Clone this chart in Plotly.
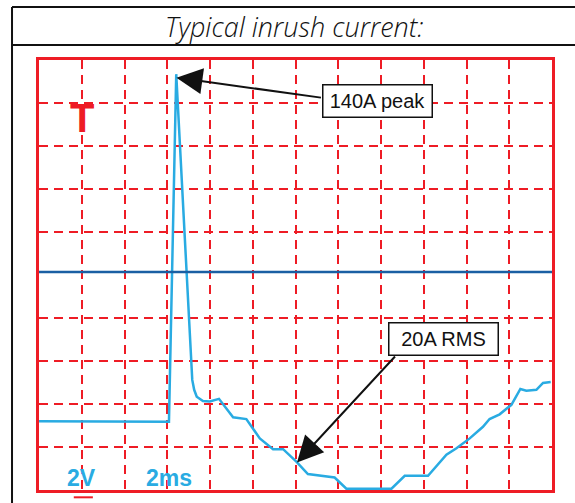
import plotly.graph_objects as go

# Scope trace: time (ms, 2 ms/div) and amplitude (divisions)
time_ms = [0, 6.08, 6.42, 7.17, 7.26, 7.38, 7.67, 7.99, 8.42, 9.08, 9.70, 10.33,
           10.95, 11.42, 12.04, 12.58, 13.83, 14.38, 16.49, 17.11, 18.20, 19.06,
           19.53, 20.15, 20.77, 21.08, 21.55, 22.10, 22.52, 22.80, 23.27, 23.58, 23.94]
current_div = [1.60, 1.59, 9.67, 2.56, 2.33, 2.17, 2.07, 2.06, 2.12, 1.69, 1.65, 1.20,
               0.95, 0.95, 0.66, 0.37, 0.29, 0.03, 0.03, 0.33, 0.33, 0.82,
               0.97, 1.20, 1.47, 1.65, 1.76, 1.98, 2.35, 2.31, 2.33, 2.49, 2.51]

x_grid = [2, 4, 6, 8, 10, 12, 14, 16, 18, 20, 22]
y_grid = [1, 2, 3, 4, 6, 7, 8, 9]
ref_level = 5.07

title_text = "Typical inrush current:"
peak_label = "140A peak"
peak_point = (6.43, 9.59)
peak_tail = (13.26, 9.12)
peak_box = (15.83, 9.04)
rms_label = "20A RMS"
rms_point = (12.07, 0.64)
rms_tail = (16.72, 3.14)
rms_box = (18.93, 3.52)

RED = "#ee1c25"
CYAN = "#29abe2"

fig = go.Figure()
fig.add_trace(go.Scatter(x=time_ms, y=current_div, mode="lines",
                         line=dict(color=CYAN, width=2.5), hoverinfo="skip"))

fig.add_shape(type="line", xref="x", yref="y", x0=0, x1=24, y0=ref_level, y1=ref_level,
              line=dict(color="#1a5fa3", width=2.5))

# outer black frame
for s in [dict(x0=-0.0526, x1=1.05, y0=1.123, y1=1.123),
          dict(x0=-0.0526, x1=1.05, y0=1.035, y1=1.035),
          dict(x0=-0.0526, x1=-0.0526, y0=1.123, y1=-0.04)]:
    fig.add_shape(type="line", xref="paper", yref="paper", line=dict(color="#111", width=2), **s)

# red underline under 2V
fig.add_shape(type="line", xref="paper", yref="paper", x0=0.0678, x1=0.105, y0=-0.017, y1=-0.017,
              line=dict(color=RED, width=2))

mid = dict(xanchor="center", yanchor="middle")
ann = []
ann.append(dict(xref="paper", yref="paper", x=0.497, y=1.079, text=title_text, showarrow=False,
                font=dict(family="Open Sans, Liberation Sans", size=27, color="#111",
                          style="italic", weight=300), **mid))
ann.append(dict(xref="paper", yref="paper", x=0.0838, y=0.865, text="T", showarrow=False,
                font=dict(family="Liberation Sans", size=40, color=RED, weight="bold"), **mid))
ann.append(dict(xref="paper", yref="paper", x=0.082, y=0.028, text="2V", showarrow=False,
                font=dict(family="Liberation Sans", size=23, color=CYAN, weight="bold"), **mid))
ann.append(dict(xref="paper", yref="paper", x=0.254, y=0.028, text="2ms", showarrow=False,
                font=dict(family="Liberation Sans", size=23, color=CYAN, weight="bold"), **mid))
for label, box, tip, tail in [(peak_label, peak_box, peak_point, peak_tail),
                              (rms_label, rms_box, rms_point, rms_tail)]:
    ann.append(dict(x=box[0], y=box[1], xref="x", yref="y", text=label, showarrow=False,
                    bgcolor="white", bordercolor="#111", borderwidth=1.5, borderpad=2,
                    width=104, height=27, align="center",
                    font=dict(family="Liberation Sans", size=20, color="#111"), **mid))
    ann.append(dict(x=tip[0], y=tip[1], xref="x", yref="y", ax=tail[0], ay=tail[1],
                    axref="x", ayref="y", text="", showarrow=True, arrowhead=2,
                    arrowsize=2.6, arrowwidth=2, arrowcolor="#111"))

axis_common = dict(showline=True, mirror=True, linecolor=RED, linewidth=2.5,
                   showticklabels=False, ticks="", zeroline=False,
                   showgrid=True, gridcolor=RED, gridwidth=2, griddash="9px,6px")
fig.update_layout(
    width=575, height=503,
    margin=dict(l=39, r=23, t=60, b=13),
    paper_bgcolor="white", plot_bgcolor="white",
    showlegend=False,
    xaxis=dict(range=[0, 24], tickvals=x_grid, **axis_common),
    yaxis=dict(range=[0, 10], tickvals=y_grid, **axis_common),
    annotations=ann,
)
fig.write_html("out.html", config={"displayModeBar": False},
               post_script="document.body.style.margin='0';document.body.style.overflow='hidden';")
